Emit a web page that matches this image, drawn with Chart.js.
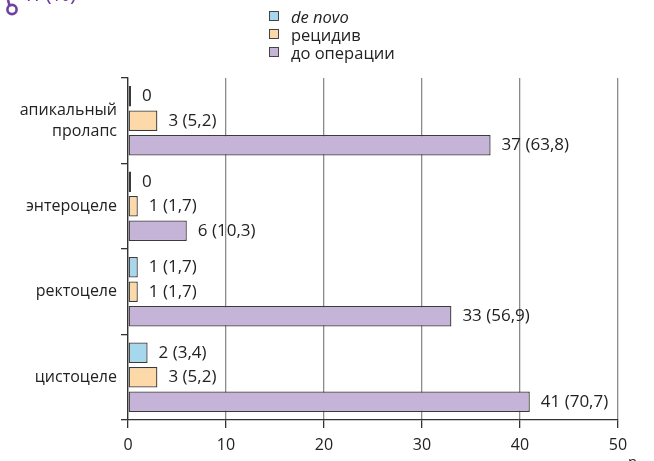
<!DOCTYPE html>
<html lang="ru">
<head>
<meta charset="utf-8">
<script src="https://cdn.jsdelivr.net/npm/chart.js@4/dist/chart.umd.min.js"></script>
<style>
  html, body { margin: 0; padding: 0; background: #fff; }
  #wrap { position: relative; width: 654px; height: 461px; overflow: hidden; }
  #chart { position: absolute; left: 0; top: 0; }
  #legend { position: absolute; left: 269px; top: 7px; font: 16.5px "Open Sans", "Noto Sans", sans-serif; color: #222; }
  #legend .row { display: flex; align-items: center; height: 18px; }
  #legend .box { width: 10px; height: 10px; border: 1px solid #444; margin-right: 12px; box-sizing: border-box; }
  #legend .it { font-style: italic; }
</style>
</head>
<body>
<div id="wrap">
  <canvas id="chart" width="654" height="461"></canvas>
  <div id="legend"></div>
</div>
<script>
// Categories (top to bottom) and series
const categories = [['апикальный', 'пролапс'], 'энтероцеле', 'ректоцеле', 'цистоцеле'];
const seriesNames = ['de novo', 'рецидив', 'до операции'];
const deNovo = [0, 0, 1, 2];
const deNovoPct = [null, null, 1.7, 3.4];
const recidiv = [3, 1, 1, 3];
const recidivPct = [5.2, 1.7, 1.7, 5.2];
const beforeOp = [37, 6, 33, 41];
const beforeOpPct = [63.8, 10.3, 56.9, 70.7];
const xTicks = [0, 10, 20, 30, 40, 50];

const fills = ['#a7d7ec', '#fdd8a8', '#c5b3d8'];
const FONT = '"Open Sans", "Noto Sans", sans-serif';

function fmt(v, p) {
  if (v === 0 || p === null) return String(v);
  return v + ' (' + String(p).replace('.', ',') + ')';
}

const values = [deNovo, recidiv, beforeOp];
const pcts = [deNovoPct, recidivPct, beforeOpPct];

// Value labels to the right of each bar
const barLabels = {
  id: 'barLabels',
  afterDatasetsDraw(chart) {
    const ctx = chart.ctx;
    ctx.save();
    ctx.font = '17px ' + FONT;
    ctx.fillStyle = '#222';
    ctx.textAlign = 'left';
    ctx.textBaseline = 'middle';
    chart.data.datasets.forEach((ds, di) => {
      chart.getDatasetMeta(di).data.forEach((bar, i) => {
        ctx.fillText(fmt(values[di][i], pcts[di][i]), bar.x + 11, bar.y);
      });
    });
    ctx.restore();
  }
};

// Unit captions: purple "n (%)" heading with its marker at the top-left, "n" at the end of the x axis
const captions = {
  id: 'captions',
  afterDraw(chart) {
    const ctx = chart.ctx;
    ctx.save();
    ctx.strokeStyle = '#7040a0';
    ctx.lineWidth = 2.6;
    ctx.beginPath();
    ctx.arc(12, 9.5, 4.6, 0, Math.PI * 2);
    ctx.stroke();
    ctx.beginPath();
    ctx.moveTo(9.5, 5.5);
    ctx.lineTo(8, 0);
    ctx.stroke();
    ctx.fillStyle = '#7040a0';
    ctx.font = '22px ' + FONT;
    ctx.textAlign = 'left';
    ctx.textBaseline = 'alphabetic';
    ctx.fillText('n (%)', 26, 1);
    ctx.fillStyle = '#222';
    ctx.font = '15px ' + FONT;
    ctx.fillText('n', 628, 467);
    ctx.restore();
  }
};

new Chart(document.getElementById('chart'), {
  type: 'bar',
  data: {
    labels: categories,
    datasets: seriesNames.map((name, k) => ({
      label: name,
      data: values[k],
      backgroundColor: fills[k],
      borderColor: '#3a3a3a',
      borderWidth: 1.3,
      borderSkipped: false,
      minBarLength: 3,
      categoryPercentage: 0.86,
      barPercentage: 0.84
    }))
  },
  options: {
    indexAxis: 'y',
    responsive: false,
    animation: false,
    layout: { padding: { left: 0, top: 78, right: 36, bottom: 0 } },
    plugins: { legend: { display: false }, tooltip: { enabled: false } },
    scales: {
      x: {
        min: 0, max: 50,
        afterBuildTicks(scale) { scale.ticks = xTicks.map(v => ({ value: v })); },
        afterFit(scale) { scale.height = 41; },
        grid: { color: '#8a8a8a', lineWidth: 1.3, tickLength: 8, tickColor: '#333' },
        border: { color: '#333', width: 1.3 },
        ticks: { font: { family: FONT, size: 16 }, color: '#222', padding: 8, maxRotation: 0 }
      },
      y: {
        afterFit(scale) { scale.width = 128; },
        grid: { drawOnChartArea: false, offset: true, tickLength: 7, color: '#333', lineWidth: 1.3 },
        border: { color: '#333', width: 1.3 },
        ticks: { font: { family: FONT, size: 16, lineHeight: 1.3 }, color: '#222', padding: 4 }
      }
    }
  },
  plugins: [barLabels, captions]
});

// Vertical legend built from the dataset names and colours
const legend = document.getElementById('legend');
seriesNames.forEach((name, k) => {
  const row = document.createElement('div');
  row.className = 'row';
  const box = document.createElement('span');
  box.className = 'box';
  box.style.background = fills[k];
  const txt = document.createElement('span');
  txt.textContent = name;
  if (k === 0) txt.className = 'it';
  row.appendChild(box);
  row.appendChild(txt);
  legend.appendChild(row);
});
</script>
</body>
</html>
